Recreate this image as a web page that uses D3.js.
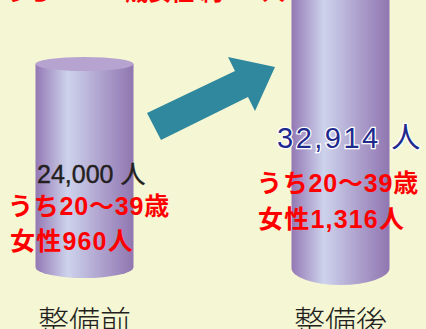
<!DOCTYPE html>
<html>
<head>
<meta charset="utf-8">
<script src="https://cdn.jsdelivr.net/npm/d3@7"></script>
<style>
  body { margin: 0; background: #F5F6D3; }
  svg { display: block; }
  .jp { font-family: "Liberation Sans", "Noto Sans CJK JP", sans-serif; }
</style>
</head>
<body>
<div id="chart"></div>
<script>
// data
var stages = ["整備前", "整備後"];
var population = [24000, 32914];
var women = [960, 1316];
var headline = "うち20～39歳女性 約360人";

var width = 426, height = 329;
var svg = d3.select("#chart").append("svg")
    .attr("width", width).attr("height", height);

svg.append("rect").attr("width", width).attr("height", height).attr("fill", "#F5F6D3");

// gradient for cylinder body
var defs = svg.append("defs");
var grad = defs.append("linearGradient").attr("id", "cyl").attr("x1", "0").attr("x2", "1").attr("y1", "0").attr("y2", "0");
grad.append("stop").attr("offset", "0%").attr("stop-color", "#9478B4");
grad.append("stop").attr("offset", "33%").attr("stop-color", "#CDD3EC");
grad.append("stop").attr("offset", "70%").attr("stop-color", "#AC9ECB");
grad.append("stop").attr("offset", "100%").attr("stop-color", "#9076B1");

// scales
var x = d3.scalePoint().domain(stages).range([84.5, 340.5]);
var rx = 49;
var h = d3.scaleLinear().domain([0, 24000]).range([0, 203]);
var baseY = [267, 268];
var bottomRy = [11, 17];
var topRy = 7;

var cyl = svg.selectAll(".cyl").data(stages).enter().append("g").attr("class", "cyl");

cyl.append("path")
    .attr("fill", "url(#cyl)")
    .attr("d", function(d, i) {
      var x0 = x(d) - rx, x1 = x(d) + rx;
      var b = baseY[i], t = b - h(population[i]);
      return "M" + x0 + "," + t + "L" + x0 + "," + b +
             "A" + rx + "," + bottomRy[i] + " 0 0 0 " + x1 + "," + b +
             "L" + x1 + "," + t + "Z";
    });

cyl.append("ellipse")
    .attr("cx", function(d) { return x(d); })
    .attr("cy", function(d, i) { return baseY[i] - h(population[i]); })
    .attr("rx", rx)
    .attr("ry", topRy)
    .attr("fill", "#B6A3CF");

// arrow
svg.append("path")
    .attr("fill", "#2F889E")
    .attr("d", "M147,113 L235,71 L228,57 L275,67 L255,111 L248,97 L161,140 Z");

// headline (cut off at top)
svg.append("text").attr("class", "jp")
    .attr("x", 285).attr("y", -0.5)
    .attr("text-anchor", "end")
    .attr("font-size", 23).attr("font-weight", "bold")
    .attr("fill", "#FF0000")
    .text(headline);

var fmt = d3.format(",");

// population labels
svg.append("text").attr("class", "jp")
    .attr("x", 37).attr("y", 183)
    .attr("font-size", 25).attr("fill", "#231F20")
    .attr("stroke", "#231F20").attr("stroke-width", 0.4)
    .text(fmt(population[0]) + " 人");

svg.append("text").attr("class", "jp")
    .attr("x", 277).attr("y", 148)
    .attr("font-size", 29).attr("fill", "#1E2A8C")
    .attr("letter-spacing", 2.5)
    .attr("stroke", "#ffffff").attr("stroke-width", 2.5)
    .attr("paint-order", "stroke")
    .text(fmt(population[1]) + " 人");

// women labels
var redPos = [[8, 215, 10, 250], [257, 192, 258, 228]];
stages.forEach(function(s, i) {
  var p = redPos[i];
  svg.append("text").attr("class", "jp")
      .attr("x", p[0]).attr("y", p[1])
      .attr("font-size", 25).attr("font-weight", "bold").attr("fill", "#FF0000")
      .attr("letter-spacing", 0.8)
      .text("うち20～39歳");
  svg.append("text").attr("class", "jp")
      .attr("x", p[2]).attr("y", p[3])
      .attr("font-size", 25).attr("font-weight", "bold").attr("fill", "#FF0000")
      .attr("letter-spacing", 1.2)
      .text("女性" + fmt(women[i]) + "人");
});

// stage labels
svg.selectAll(".stage").data(stages).enter().append("text")
    .attr("class", "stage")
    .attr("x", function(d) { return x(d); })
    .attr("y", 333)
    .attr("text-anchor", "middle")
    .attr("font-family", "'Noto Sans CJK JP', sans-serif")
    .attr("font-size", 31).attr("font-weight", 300)
    .attr("fill", "#231F20")
    .text(function(d) { return d; });
</script>
</body>
</html>
